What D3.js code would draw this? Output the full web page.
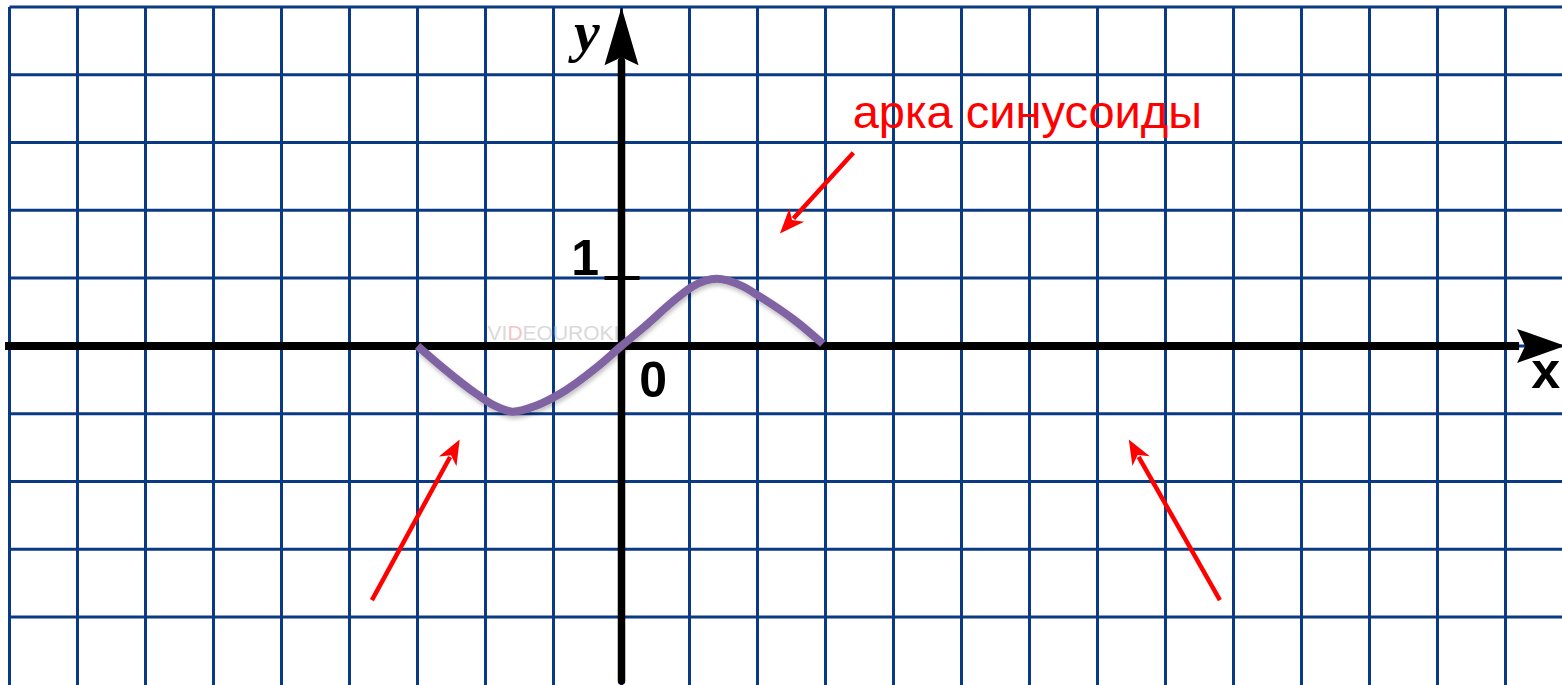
<!DOCTYPE html>
<html>
<head>
<meta charset="utf-8">
<script src="https://cdn.jsdelivr.net/npm/d3@7"></script>
<style>
  html, body { margin: 0; padding: 0; background: #fff; }
  svg { display: block; }
</style>
</head>
<body>
<div id="chart"></div>
<script>
// Grid units (one cell = one unit)
const gridX = [-9, -8, -7, -6, -5, -4, -3, -2, -1, 0, 1, 2, 3, 4, 5, 6, 7, 8, 9, 10, 11, 12, 13];
const gridY = [5, 4, 3, 2, 1, 0, -1, -2, -3, -4];

// Sine arch (x in cells, y in cells)
const curveX = [-3.0, -2.63, -2.13, -1.85, -1.60, -1.25, -0.91, -0.37, 0, 0.31, 0.81, 1.05, 1.40, 1.78, 2.03, 2.57, 2.96];
const curveY = [0.0, -0.32, -0.71, -0.89, -0.97, -0.88, -0.71, -0.32, 0, 0.26, 0.70, 0.88, 0.99, 0.88, 0.73, 0.36, 0.03];

const axisLabels = [{text: 'x', x: 13.38, y: -0.62}, {text: 'y', x: -0.7, y: 4.35}];
const tickLabels = [{text: '0', x: 0.26, y: -0.75}, {text: '1', x: -0.74, y: 1.04}];
const caption = 'арка синусоиды';

// Red pointer arrows: [tailX, tailY, tipX, tipY] in cells
const pointers = [
    [3.41, 2.85, 2.33, 1.66],
    [-3.67, -3.75, -2.38, -1.38],
    [8.80, -3.75, 7.46, -1.38]
];

const width = 1562, height = 685;
const x = d3.scaleLinear().domain([-9, 13]).range([9.5, 1505.5]);
const y = d3.scaleLinear().domain([5, -4]).range([7, 617]);

const svg = d3.select('#chart').append('svg')
    .attr('width', width)
    .attr('height', height);

const defs = svg.append('defs');
defs.append('filter').attr('id', 'shadow')
    .attr('x', '-5%').attr('y', '-20%').attr('width', '110%').attr('height', '140%')
    .append('feDropShadow')
    .attr('dx', 1).attr('dy', 3).attr('stdDeviation', 2)
    .attr('flood-color', '#000').attr('flood-opacity', 0.25);

// Grid
const gridColor = '#0b3a85';
svg.append('g').selectAll('line')
    .data(gridX)
    .enter().append('line')
    .attr('x1', d => x(d)).attr('x2', d => x(d))
    .attr('y1', y(5)).attr('y2', height)
    .attr('stroke', gridColor).attr('stroke-width', 3);

svg.append('g').selectAll('line')
    .data(gridY)
    .enter().append('line')
    .attr('x1', x(-9)).attr('x2', width)
    .attr('y1', d => y(d)).attr('y2', d => y(d))
    .attr('stroke', gridColor).attr('stroke-width', 3);

// Watermark
const wm = svg.append('text')
    .attr('x', x(-1.97)).attr('y', y(0.08))
    .attr('font-family', 'Liberation Sans, Arial, sans-serif')
    .attr('font-size', '21px')
    .attr('fill', '#d9d9d9');
wm.append('tspan').text('VI');
wm.append('tspan').attr('fill', '#f4c4c8').text('D');
wm.append('tspan').text('EOUROKI.');

// Axes
const axisG = svg.append('g');
axisG.append('line')
    .attr('x1', 5).attr('x2', x(13.2))
    .attr('y1', y(0)).attr('y2', y(0))
    .attr('stroke', '#000').attr('stroke-width', 8);
axisG.append('line')
    .attr('x1', x(0)).attr('x2', x(0))
    .attr('y1', height - 4).attr('y2', y(4.2))
    .attr('stroke', '#000').attr('stroke-width', 7.5)
    .attr('stroke-linecap', 'round');

// x arrow head
const xt = x(13.17), x0 = y(0);
axisG.append('path')
    .attr('d', `M${xt + 48},${x0} L${xt},${x0 - 17} L${xt + 8},${x0} L${xt},${x0 + 17} Z`)
    .attr('fill', '#000');
// y arrow head
const yx = x(0), yt = y(4.14);
axisG.append('path')
    .attr('d', `M${yx},${yt - 58} L${yx - 17},${yt} L${yx},${yt - 8} L${yx + 17},${yt} Z`)
    .attr('fill', '#000');

// tick at 1
axisG.append('line')
    .attr('x1', x(0) - 17).attr('x2', x(0) + 18)
    .attr('y1', y(1)).attr('y2', y(1))
    .attr('stroke', '#000').attr('stroke-width', 4);

// Sine arch
const pts = curveX.map((v, i) => [v, curveY[i]]);
svg.append('path')
    .datum(pts)
    .attr('d', d3.line().x(d => x(d[0])).y(d => y(d[1])).curve(d3.curveMonotoneX))
    .attr('fill', 'none')
    .attr('stroke', '#8064a2')
    .attr('stroke-width', 8)
    .attr('filter', 'url(#shadow)');

// Labels
svg.append('g').selectAll('text')
    .data(tickLabels)
    .enter().append('text')
    .attr('x', d => x(d.x)).attr('y', d => y(d.y))
    .attr('font-family', 'Liberation Sans, Arial, sans-serif')
    .attr('font-weight', 'bold')
    .attr('font-size', '50px')
    .attr('fill', '#000')
    .text(d => d.text);

svg.append('text')
    .attr('x', x(axisLabels[0].x)).attr('y', y(axisLabels[0].y))
    .attr('font-family', 'Liberation Sans, Arial, sans-serif')
    .attr('font-weight', 'bold')
    .attr('font-size', '52px')
    .text(axisLabels[0].text);

svg.append('text')
    .attr('x', x(axisLabels[1].x)).attr('y', y(axisLabels[1].y))
    .attr('font-family', 'Liberation Serif, serif')
    .attr('font-style', 'italic')
    .attr('font-weight', 'bold')
    .attr('font-size', '58px')
    .text(axisLabels[1].text);

// Caption
svg.append('text')
    .attr('x', x(3.40)).attr('y', y(3.21))
    .attr('font-family', 'Liberation Sans, Arial, sans-serif')
    .attr('font-size', '47px')
    .attr('fill', '#ff0000')
    .text(caption);

// Red pointers
const pg = svg.append('g');
pointers.forEach(p => {
    const x1 = x(p[0]), y1 = y(p[1]), x2 = x(p[2]), y2 = y(p[3]);
    const ang = Math.atan2(y2 - y1, x2 - x1);
    const len = 25, hw = 10;
    const bx = x2 - len * Math.cos(ang), by = y2 - len * Math.sin(ang);
    pg.append('line')
        .attr('x1', x1).attr('y1', y1).attr('x2', bx + 5 * Math.cos(ang)).attr('y2', by + 5 * Math.sin(ang))
        .attr('stroke', '#ff0000').attr('stroke-width', 4.5);
    const nx = -Math.sin(ang), ny = Math.cos(ang);
    const nbx = x2 - (len - 7) * Math.cos(ang), nby = y2 - (len - 7) * Math.sin(ang);
    pg.append('path')
        .attr('d', `M${x2},${y2} L${bx + nx * hw},${by + ny * hw} L${nbx},${nby} L${bx - nx * hw},${by - ny * hw} Z`)
        .attr('fill', '#ff0000');
});
</script>
</body>
</html>
